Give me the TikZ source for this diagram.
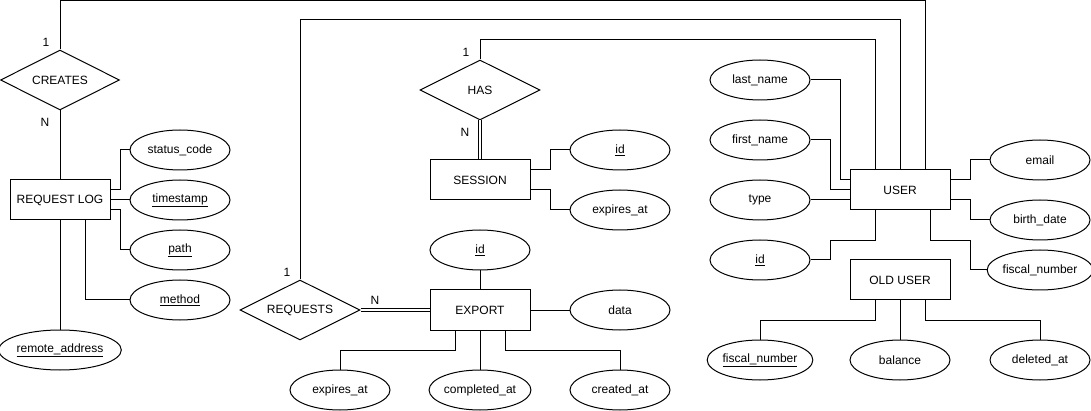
\documentclass[tikz,border=0pt]{standalone}
\usepackage{fontspec}
\setmainfont{Liberation Sans}
\usetikzlibrary{shapes.geometric}
\tikzset{
  every node/.style={font=\fontsize{12pt}{14pt}\selectfont, inner sep=0pt},
  ent/.style={draw, rectangle, minimum width=100pt, minimum height=40pt},
  attr/.style={draw, ellipse, minimum width=100pt, minimum height=40pt},
  rel/.style={draw, diamond, aspect=2, minimum width=120pt, minimum height=60pt},
  dbl/.style={draw, line width=0.9pt, double, double distance=2pt},
  card/.style={font=\fontsize{12pt}{14pt}\selectfont}
}
\begin{document}
\begin{tikzpicture}[x=1pt, y=-1pt, line width=1pt]
\useasboundingbox (0,0) rectangle (1091,411);
% entities
\node[ent] (rl) at (60,200) {REQUEST LOG};
\node[ent] (ses) at (480,180) {SESSION};
\node[ent] (exp) at (480,310) {EXPORT};
\node[ent] (user) at (900,190) {USER};
\node[ent] (old) at (900,280) {OLD USER};
% relationships
\node[rel, minimum width=119pt] (cr) at (60,80) {CREATES};
\node[rel] (has) at (480,90) {HAS};
\node[rel] (req) at (300,310) {REQUESTS};
% attributes
\node[attr] (sc) at (180,150) {status\_code};
\node[attr] (ts) at (180,200) {\underline{timestamp}};
\node[attr] (pa) at (180,250) {\underline{path}};
\node[attr] (me) at (180,300) {\underline{method}};
\node[attr] (ra) at (60,350) {\underline{remote\_address}};
\node[attr] (sid) at (620,150) {\underline{id}};
\node[attr] (sexp) at (620,210) {expires\_at};
\node[attr] (eid) at (480,250) {\underline{id}};
\node[attr] (data) at (620,310) {data};
\node[attr] (eexp) at (340,390) {expires\_at};
\node[attr] (comp) at (480,390) {completed\_at};
\node[attr] (ecr) at (620,390) {created\_at};
\node[attr] (ln) at (760,80) {last\_name};
\node[attr] (fn) at (760,140) {first\_name};
\node[attr] (ty) at (760,200) {type};
\node[attr] (uid) at (760,260) {\underline{id}};
\node[attr] (em) at (1040,160) {email};
\node[attr] (bd) at (1040,220) {birth\_date};
\node[attr] (fis) at (1040,270) {fiscal\_number};
\node[attr] (ofn) at (760,360) {\underline{fiscal\_number}};
\node[attr] (bal) at (900,360) {balance};
\node[attr] (del) at (1040,360) {deleted\_at};
% cardinalities
\node[card] (c1) at (46,42) {1};
\node[card] (c2) at (45,122) {N};
\node[card] (c3) at (466,52) {1};
\node[card] (c4) at (465,132) {N};
\node[card] (c5) at (287,272) {1};
\node[card] (c6) at (375,300) {N};
% relationship connectors
\draw (cr.north) -- ++(0,-49) -| ([xshift=25pt]user.north);
\draw (cr.south) -- (rl.north);
\draw (has.north) -- ++(0,-20) -| ([xshift=-25pt]user.north);
\draw[dbl] (has.south) -- (ses.north);
\draw (req.north) -- ++(0,-260) -| (user.north);
\draw[dbl] (req.east) -- (exp.west);
% request log attributes
\draw ([yshift=10pt]rl.east) -- ++(10,0) |- (sc.west);
\draw (rl.east) -- (ts.west);
\draw ([yshift=-10pt]rl.east) -- ++(10,0) |- (pa.west);
\draw ([xshift=25pt]rl.south) |- (me.west);
\draw (rl.south) -- (ra.north);
% session attributes
\draw ([yshift=10pt]ses.east) -- ++(20,0) |- (sid.west);
\draw ([yshift=-10pt]ses.east) -- ++(20,0) |- (sexp.west);
% export attributes
\draw (eid.south) -- (exp.north);
\draw (exp.east) -- (data.west);
\draw ([xshift=-25pt]exp.south) -- ++(0,20) -| (eexp.north);
\draw (exp.south) -- (comp.north);
\draw ([xshift=25pt]exp.south) -- ++(0,20) -| (ecr.north);
% user attributes
\draw (ln.east) -- ++(30,0) |- ([yshift=10pt]user.west);
\draw (fn.east) -- ++(20,0) |- (user.west);
\draw (ty.east) -- (ty.east -| user.west);
\draw ([yshift=10pt]user.east) -- ++(20,0) |- (em.west);
\draw ([yshift=-10pt]user.east) -- ++(20,0) |- (bd.west);
\draw ([xshift=-25pt]user.south) -- ++(0,30) -- ++(-45,0) |- (uid.east);
\draw ([xshift=30pt]user.south) -- ++(0,30) -- ++(40,0) |- (fis.west);
% old user attributes
\draw ([xshift=-25pt]old.south) -- ++(0,20) -| (ofn.north);
\draw (old.south) -- (bal.north);
\draw ([xshift=25pt]old.south) -- ++(0,20) -| (del.north);
\end{tikzpicture}
\end{document}
